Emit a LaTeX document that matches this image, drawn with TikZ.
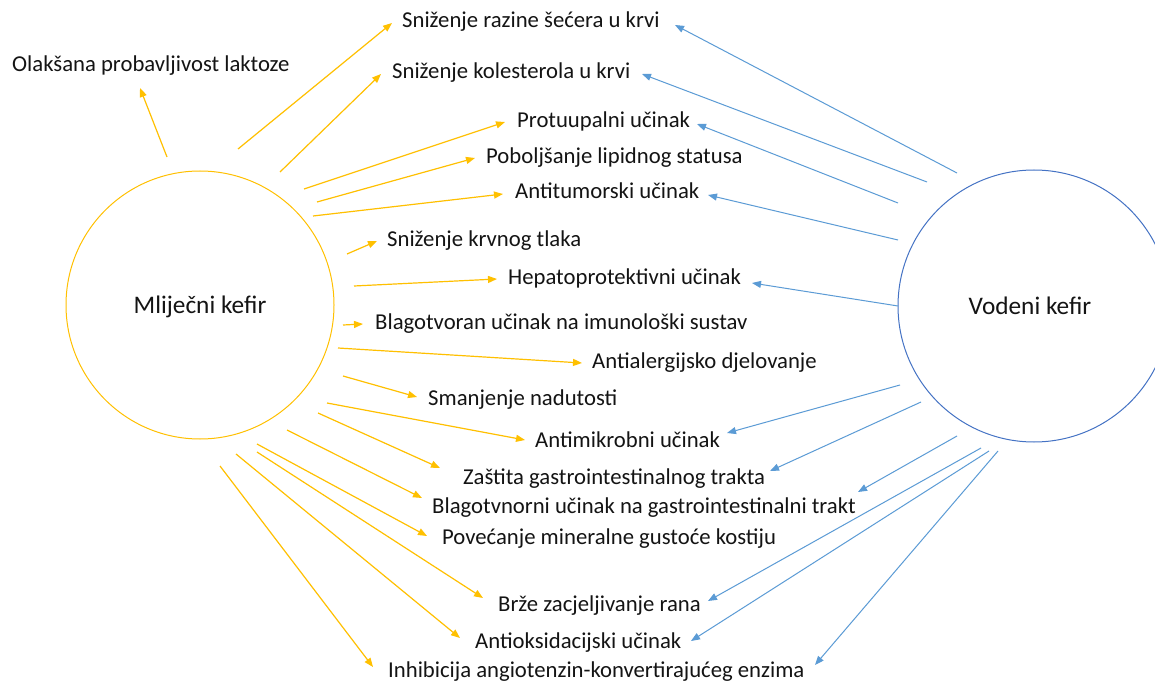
\documentclass[tikz,border=0pt]{standalone}
\usepackage{fontspec}
\setmainfont{Carlito}
\usetikzlibrary{arrows.meta}
\definecolor{gold}{HTML}{FFC000}
\definecolor{lblue}{HTML}{5B9BD5}
\definecolor{dblue}{HTML}{4472C4}
\definecolor{txt}{HTML}{141414}
\begin{document}
\begin{tikzpicture}[x=1pt,y=-1pt,
  font=\fontsize{22.7}{27}\selectfont,
  lbl/.style={anchor=base west,inner sep=0pt,text=txt},
  ya/.style={draw=gold,line width=1.2pt,-{Triangle[length=9pt,width=7pt]}},
  ba/.style={draw=lblue,line width=1pt,-{Triangle[length=9pt,width=7pt]}},
  hub/.style={circle,inner sep=0pt,line width=1pt,fill=white}]
\useasboundingbox (0,0) rectangle (1155,684);
\clip (0,0) rectangle (1155,684);
\fill[white] (0,0) rectangle (1155,684);
% hubs
\node[hub,draw=gold,minimum size=268pt] (mk) at (200,305) {};
\node[text=txt,font=\fontsize{25.3}{30}\selectfont] (mkt) at (200,307) {Mliječni kefir};
\node[hub,draw=dblue,minimum size=272pt] (vk) at (1034,306) {};
\node[text=txt,font=\fontsize{25.3}{30}\selectfont] (vkt) at (1030,306) {Vodeni kefir};
% labels
\node[lbl] (t1) at (12,72) {Olakšana probavljivost laktoze};
\node[lbl] (t2) at (402,28) {Sniženje razine šećera u krvi};
\node[lbl] (t3) at (392,79) {Sniženje kolesterola u krvi};
\node[lbl] (t4) at (517,128) {Protuupalni učinak};
\node[lbl] (t5) at (486,164) {Poboljšanje lipidnog statusa};
\node[lbl] (t6) at (515,199) {Antitumorski učinak};
\node[lbl] (t7) at (387,247) {Sniženje krvnog tlaka};
\node[lbl] (t8) at (508,285) {Hepatoprotektivni učinak};
\node[lbl] (t9) at (375,329) {Blagotvoran učinak na imunološki sustav};
\node[lbl] (t10) at (592,368) {Antialergijsko djelovanje};
\node[lbl] (t11) at (428,405) {Smanjenje nadutosti};
\node[lbl] (t12) at (535,447) {Antimikrobni učinak};
\node[lbl] (t13) at (463,484) {Zaštita gastrointestinalnog trakta};
\node[lbl] (t14) at (432,513) {Blagotvnorni učinak na gastrointestinalni trakt};
\node[lbl] (t15) at (442,544) {Povećanje mineralne gustoće kostiju};
\node[lbl] (t16) at (498,611) {Brže zacjeljivanje rana};
\node[lbl] (t17) at (475,648) {Antioksidacijski učinak};
\node[lbl] (t18) at (388,677) {Inhibicija angiotenzin-konvertirajućeg enzima};
% yellow connector points
\coordinate (y1s) at (167,157);  \coordinate (y1e) at (140,88);
\coordinate (y2s) at (238,149);  \coordinate (y2e) at (392,23);
\coordinate (y3s) at (280,172);  \coordinate (y3e) at (381,74);
\coordinate (y4s) at (304,189);  \coordinate (y4e) at (505,122);
\coordinate (y5s) at (317,202);  \coordinate (y5e) at (475,158);
\coordinate (y6s) at (313,216);  \coordinate (y6e) at (503,194);
\coordinate (y7s) at (347,254);  \coordinate (y7e) at (377,241);
\coordinate (y8s) at (354,286);  \coordinate (y8e) at (497,279);
\coordinate (y9s) at (343,325);  \coordinate (y9e) at (363,324);
\coordinate (y10s) at (338,348); \coordinate (y10e) at (582,363);
\coordinate (y11s) at (343,376); \coordinate (y11e) at (417,397);
\coordinate (y12s) at (327,403); \coordinate (y12e) at (525,440);
\coordinate (y13s) at (318,413); \coordinate (y13e) at (440,468);
\coordinate (y14s) at (287,430); \coordinate (y14e) at (422,498);
\coordinate (y15s) at (257,444); \coordinate (y15e) at (427,536);
\coordinate (y16s) at (257,452); \coordinate (y16e) at (483,598);
\coordinate (y17s) at (236,454); \coordinate (y17e) at (460,638);
\coordinate (y18s) at (220,466); \coordinate (y18e) at (373,667);
\foreach \i in {1,...,18} {\draw[ya] (y\i s) -- (y\i e);}
% blue connector points
\coordinate (b2s) at (957,173);  \coordinate (b2e) at (675,25);
\coordinate (b3s) at (927,182);  \coordinate (b3e) at (642,74);
\coordinate (b4s) at (898,203);  \coordinate (b4e) at (697,124);
\coordinate (b6s) at (898,240);  \coordinate (b6e) at (708,195);
\coordinate (b8s) at (898,306);  \coordinate (b8e) at (752,283);
\coordinate (b12s) at (900,385); \coordinate (b12e) at (727,433);
\coordinate (b13s) at (921,402); \coordinate (b13e) at (770,471);
\coordinate (b14s) at (957,436); \coordinate (b14e) at (858,492);
\coordinate (b16s) at (981,448); \coordinate (b16e) at (708,601);
\coordinate (b17s) at (989,451); \coordinate (b17e) at (691,641);
\coordinate (b18s) at (998,451); \coordinate (b18e) at (815,665);
\foreach \i in {2,3,4,6,8,12,13,14,16,17,18} {\draw[ba] (b\i s) -- (b\i e);}
\end{tikzpicture}
\end{document}
